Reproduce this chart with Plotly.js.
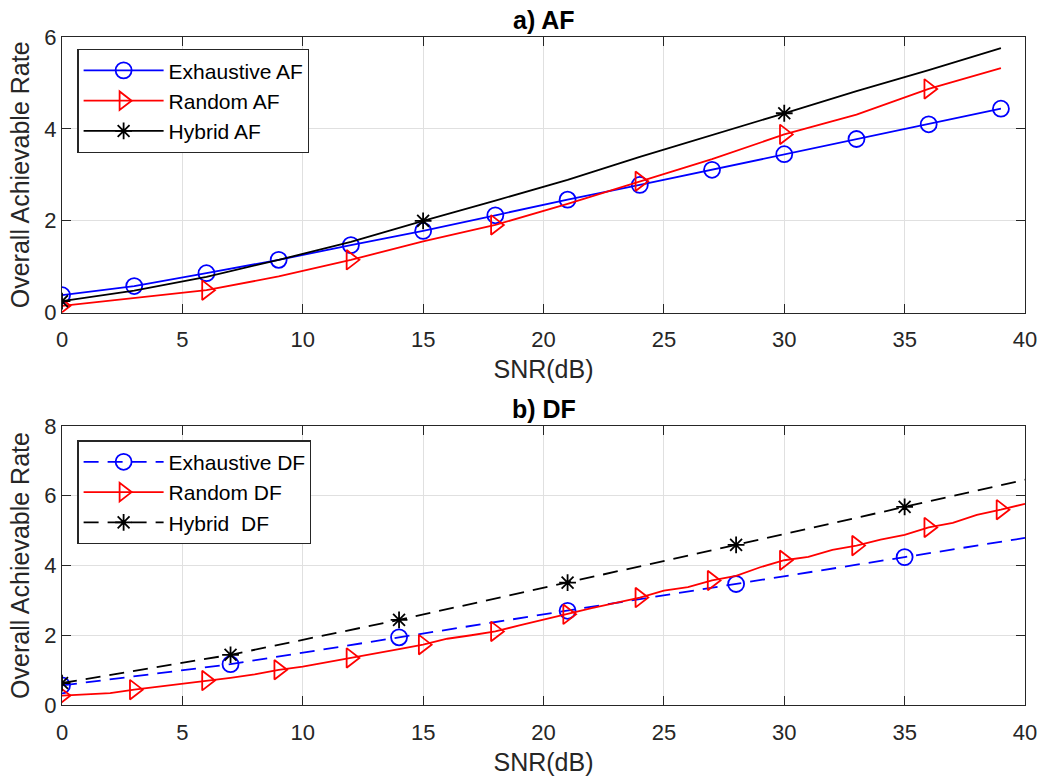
<!DOCTYPE html>
<html>
<head>
<meta charset="utf-8">
<script src="https://cdn.plot.ly/plotly-3.0.1.min.js"></script>
<style>html,body{margin:0;padding:0;background:#fff;}#chart{width:1047px;height:782px;}</style>
</head>
<body>
<div id="chart"></div>
<script>
// ---------- a) AF ----------
var snrAF = [0, 3, 6, 9, 12, 15, 18, 21, 24, 27, 30, 33, 36, 39];
var exhaustiveAF = [0.38, 0.58, 0.86, 1.15, 1.47, 1.78, 2.12, 2.46, 2.78, 3.11, 3.45, 3.78, 4.10, 4.44];
var randomAF     = [0.15, 0.32, 0.49, 0.79, 1.15, 1.55, 1.91, 2.37, 2.86, 3.34, 3.88, 4.31, 4.87, 5.32];
var hybridAF     = [0.25, 0.48, 0.78, 1.15, 1.54, 2.00, 2.44, 2.89, 3.39, 3.86, 4.34, 4.82, 5.28, 5.76];
var exhaustiveAFMarkers = [0, 3, 6, 9, 12, 15, 18, 21, 24, 27, 30, 33, 36, 39];
var randomAFMarkers     = [0, 6, 12, 18, 24, 30, 36];
var hybridAFMarkers     = [0, 15, 30];

// ---------- b) DF ----------
var snrExhDF = [0, 7, 14, 21, 28, 35, 40];
var exhaustiveDF = [0.56, 1.17, 1.94, 2.70, 3.47, 4.24, 4.79];
var snrHybDF = [0, 7, 14, 21, 28, 35, 40];
var hybridDF = [0.63, 1.44, 2.44, 3.51, 4.59, 5.68, 6.46];
var snrRndDF = [0,1,2,3,4,5,6,7,8,9,10,11,12,13,14,15,16,17,18,19,20,21,22,23,24,25,26,27,28,29,30,31,32,33,34,35,36,37,38,39,40];
var randomDF = [0.27,0.31,0.34,0.44,0.52,0.60,0.70,0.78,0.88,1.01,1.10,1.22,1.35,1.48,1.60,1.73,1.90,2.00,2.11,2.28,2.45,2.60,2.78,2.93,3.08,3.28,3.38,3.57,3.70,3.95,4.15,4.25,4.45,4.57,4.74,4.88,5.09,5.22,5.45,5.60,5.77];
var exhaustiveDFMarkers = [0, 7, 14, 21, 28, 35];
var hybridDFMarkers     = [0, 7, 14, 21, 28, 35];
var randomDFMarkers     = [0, 3, 6, 9, 12, 15, 18, 21, 24, 27, 30, 33, 36, 39];

var legendNames = ['Exhaustive AF', 'Random AF', 'Hybrid AF', 'Exhaustive DF', 'Random DF', 'Hybrid  DF'];

function markerColors(xs, marks, color) {
  return xs.map(function (x) { return marks.indexOf(x) >= 0 ? color : 'rgba(0,0,0,0)'; });
}
function series(xs, ys, marks, color, symbol, size, dash, name, xa, ya, leg) {
  return {
    x: xs, y: ys, name: name, type: 'scatter', mode: 'lines+markers',
    xaxis: xa, yaxis: ya, legend: leg,
    line: {color: color, width: 1.8, dash: dash},
    marker: {symbol: symbol, size: size, color: markerColors(xs, marks, color), line: {width: 1.8}},
    hoverinfo: 'x+y+name'
  };
}

var DASH = '15px,9px';
var data = [
  series(snrAF, exhaustiveAF, exhaustiveAFMarkers, '#0000ff', 'circle-open', 16, 'solid', legendNames[0], 'x', 'y', 'legend'),
  series(snrAF, randomAF, randomAFMarkers, '#ff0000', 'triangle-right-open', 17, 'solid', legendNames[1], 'x', 'y', 'legend'),
  series(snrAF, hybridAF, hybridAFMarkers, '#000000', 'asterisk-open', 14, 'solid', legendNames[2], 'x', 'y', 'legend'),
  series(snrExhDF, exhaustiveDF, exhaustiveDFMarkers, '#0000ff', 'circle-open', 16, DASH, legendNames[3], 'x2', 'y2', 'legend2'),
  series(snrRndDF, randomDF, randomDFMarkers, '#ff0000', 'triangle-right-open', 17, 'solid', legendNames[4], 'x2', 'y2', 'legend2'),
  series(snrHybDF, hybridDF, hybridDFMarkers, '#000000', 'asterisk-open', 14, DASH, legendNames[5], 'x2', 'y2', 'legend2')
];

var FONT = 'Liberation Sans, Arial, Helvetica, sans-serif';
var AX = '#262626';
function xaxis(anchor) {
  return {
    domain: [0, 1], anchor: anchor, range: [0, 40], dtick: 5, tick0: 0,
    showline: true, linecolor: AX, linewidth: 1.2, mirror: 'allticks',
    ticks: 'inside', ticklen: 9, tickcolor: AX, tickwidth: 1.2, ticklabelstandoff: 7,
    showgrid: true, gridcolor: '#e0e0e0', gridwidth: 1, zeroline: false,
    tickfont: {family: FONT, size: 22, color: AX},
    title: {text: 'SNR(dB)', font: {family: FONT, size: 25, color: AX}, standoff: 9},
    automargin: false, fixedrange: true
  };
}
function yaxis(domain, range, anchor) {
  return {
    domain: domain, anchor: anchor, range: range, dtick: 2, tick0: 0,
    showline: true, linecolor: AX, linewidth: 1.2, mirror: 'allticks',
    ticks: 'inside', ticklen: 9, tickcolor: AX, tickwidth: 1.2,
    showgrid: true, gridcolor: '#e0e0e0', gridwidth: 1, zeroline: false,
    tickfont: {family: FONT, size: 22, color: AX},
    title: {text: 'Overall Achievable Rate', font: {family: FONT, size: 25, color: AX}, standoff: 7},
    automargin: false, fixedrange: true
  };
}
function legendBox(yTop) {
  return {
    x: 0.016, y: yTop, xanchor: 'left', yanchor: 'top',
    bgcolor: '#ffffff', bordercolor: AX, borderwidth: 1.2,
    font: {family: FONT, size: 21, color: '#000'},
    itemwidth: 80,
    tracegroupgap: 0, itemclick: false, itemdoubleclick: false
  };
}

var layout = {
  width: 1047, height: 782,
  margin: {l: 62, r: 21.5, t: 37, b: 77},
  paper_bgcolor: '#ffffff', plot_bgcolor: '#ffffff',
  showlegend: true,
  xaxis: xaxis('y'),
  yaxis: yaxis([0.5873, 1], [0, 6], 'x'),
  xaxis2: xaxis('y2'),
  yaxis2: yaxis([0, 0.4177], [0, 8], 'x2'),
  legend: legendBox(0.982),
  legend2: legendBox(0.396),
  annotations: [
    {text: '<b>a) AF</b>', xref: 'x domain', yref: 'y domain', x: 0.5, y: 1, xanchor: 'center', yanchor: 'bottom',
     yshift: 1, showarrow: false, font: {family: FONT, size: 25, color: '#000'}},
    {text: '<b>b) DF</b>', xref: 'x2 domain', yref: 'y2 domain', x: 0.5, y: 1, xanchor: 'center', yanchor: 'bottom',
     yshift: 1, showarrow: false, font: {family: FONT, size: 25, color: '#000'}}
  ]
};

Plotly.newPlot('chart', data, layout, {displayModeBar: false});
</script>
</body>
</html>
